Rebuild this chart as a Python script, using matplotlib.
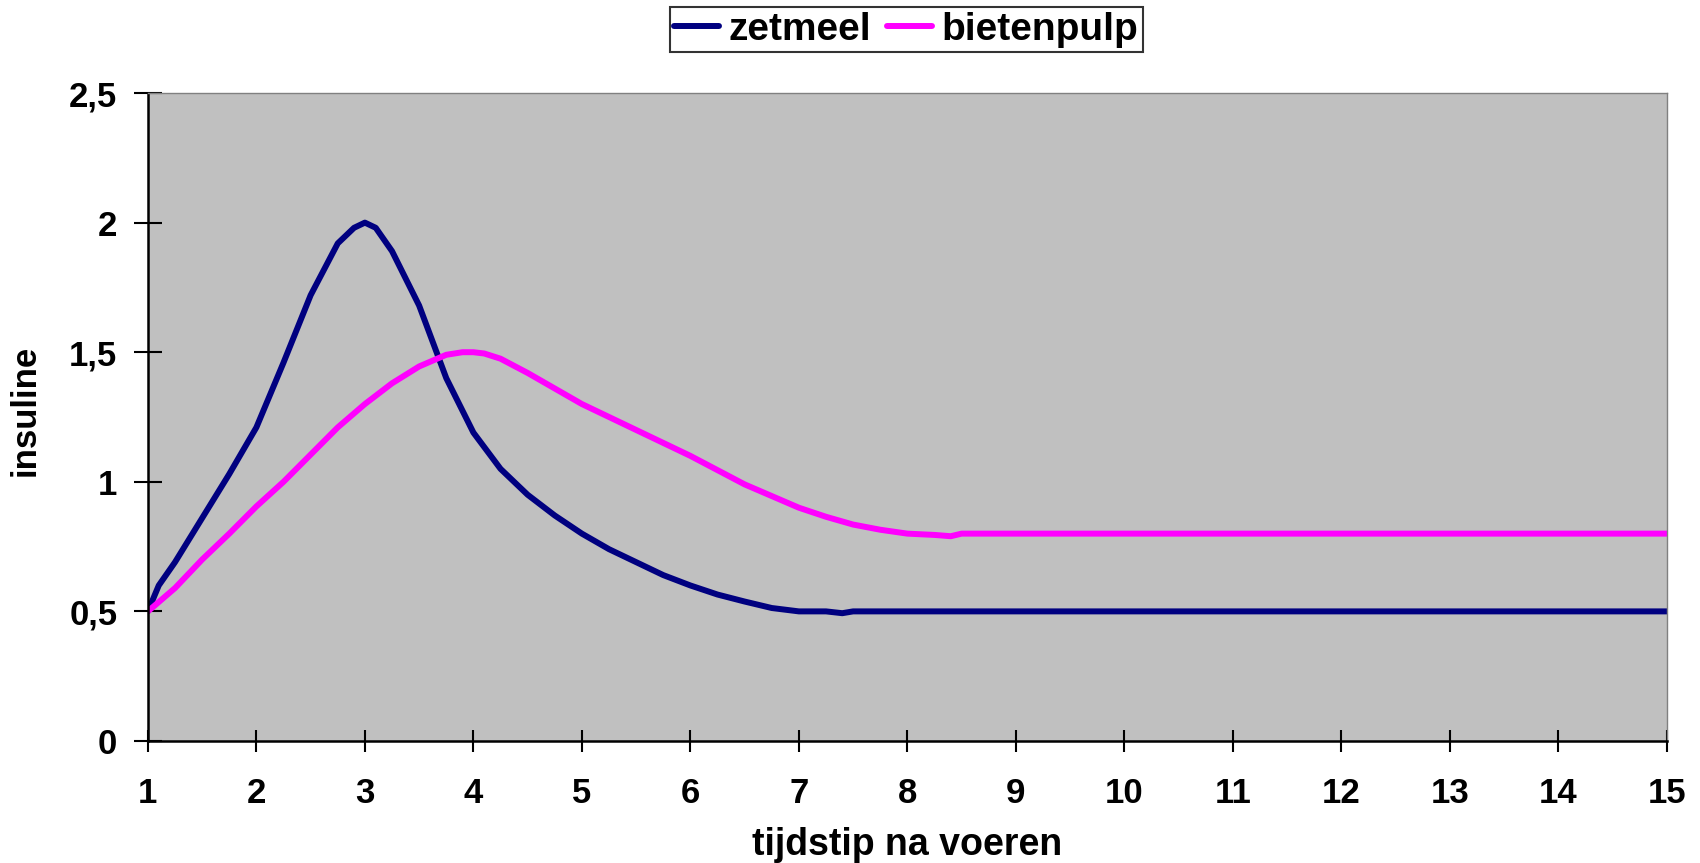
import matplotlib
matplotlib.use('Agg')
import matplotlib.pyplot as plt

plt.rcParams['font.family'] = ['Liberation Sans', 'DejaVu Sans']
plt.rcParams['font.weight'] = 'bold'

# tijdstip na voeren (x) and insuline values
t_zetmeel = [1.0, 1.1, 1.25, 1.5, 1.75, 2.0, 2.25, 2.5, 2.75, 2.9, 3.0, 3.1, 3.25,
             3.5, 3.75, 4.0, 4.25, 4.5, 4.75, 5.0, 5.25, 5.5, 5.75, 6.0, 6.25,
             6.5, 6.75, 7.0, 7.25, 7.4, 7.5, 15.0]
zetmeel = [0.50, 0.60, 0.69, 0.86, 1.03, 1.21, 1.46, 1.72, 1.92, 1.98, 2.00, 1.98, 1.89,
           1.68, 1.40, 1.19, 1.05, 0.95, 0.87, 0.80, 0.74, 0.69, 0.64, 0.60, 0.565,
           0.538, 0.513, 0.50, 0.50, 0.493, 0.50, 0.50]

t_biet = [1.0, 1.25, 1.5, 1.75, 2.0, 2.25, 2.5, 2.75, 3.0, 3.25, 3.5, 3.75, 3.9,
          4.0, 4.1, 4.25, 4.5, 4.75, 5.0, 5.25, 5.5, 5.75, 6.0, 6.25, 6.5, 6.75,
          7.0, 7.25, 7.5, 7.75, 8.0, 8.25, 8.4, 8.5, 15.0]
bietenpulp = [0.50, 0.59, 0.70, 0.80, 0.905, 1.00, 1.105, 1.21, 1.30, 1.38, 1.445, 1.49, 1.50,
              1.50, 1.495, 1.475, 1.42, 1.36, 1.30, 1.25, 1.20, 1.15, 1.10, 1.045, 0.99, 0.945,
              0.90, 0.865, 0.835, 0.815, 0.80, 0.795, 0.79, 0.80, 0.80]

x_ticks = list(range(1, 16))
y_ticks = [0, 0.5, 1, 1.5, 2, 2.5]
y_labels = ['0', '0,5', '1', '1,5', '2', '2,5']

fig = plt.figure(figsize=(17, 8.63), dpi=100)
ax = fig.add_axes([0.087, 0.1414, 0.8935, 0.7508])
ax.set_facecolor('#C0C0C0')

ax.plot(t_zetmeel, zetmeel, color='#000080', lw=4.3, label='zetmeel', solid_capstyle='round')
ax.plot(t_biet, bietenpulp, color='#FF00FF', lw=4.3, label='bietenpulp', solid_capstyle='round')

ax.set_xlim(1, 15)
ax.set_ylim(0, 2.5)
ax.set_xticks(x_ticks)
ax.set_xticklabels([str(v) for v in x_ticks], fontsize=25, fontweight='bold')
ax.set_yticks(y_ticks)
ax.set_yticklabels(y_labels, fontsize=25, fontweight='bold')
ax.tick_params(axis='x', direction='inout', length=16, width=1.5, pad=18)
ax.tick_params(axis='y', direction='inout', length=20, width=1.5, pad=12)

for s in ['left', 'bottom']:
    ax.spines[s].set_linewidth(1.8)
    ax.spines[s].set_color('black')
for s in ['top', 'right']:
    ax.spines[s].set_linewidth(1.0)
    ax.spines[s].set_color('#808080')

ax.set_xlabel('tijdstip na voeren', fontsize=27, fontweight='bold', labelpad=12)
ax.set_ylabel('insuline', fontsize=25, fontweight='bold', labelpad=20)
ax.yaxis.set_label_coords(-0.07, 0.51)

leg = fig.legend(loc='upper center', bbox_to_anchor=(0.533, 0.992), ncol=2,
                 frameon=True, fancybox=False, edgecolor='black',
                 handlelength=1.15, handletextpad=0.25, columnspacing=0.4,
                 borderpad=0.12, borderaxespad=0.0,
                 prop={'weight': 'bold', 'size': 28})
leg.get_frame().set_linewidth(1.5)

fig.savefig('out.png', dpi=100)
